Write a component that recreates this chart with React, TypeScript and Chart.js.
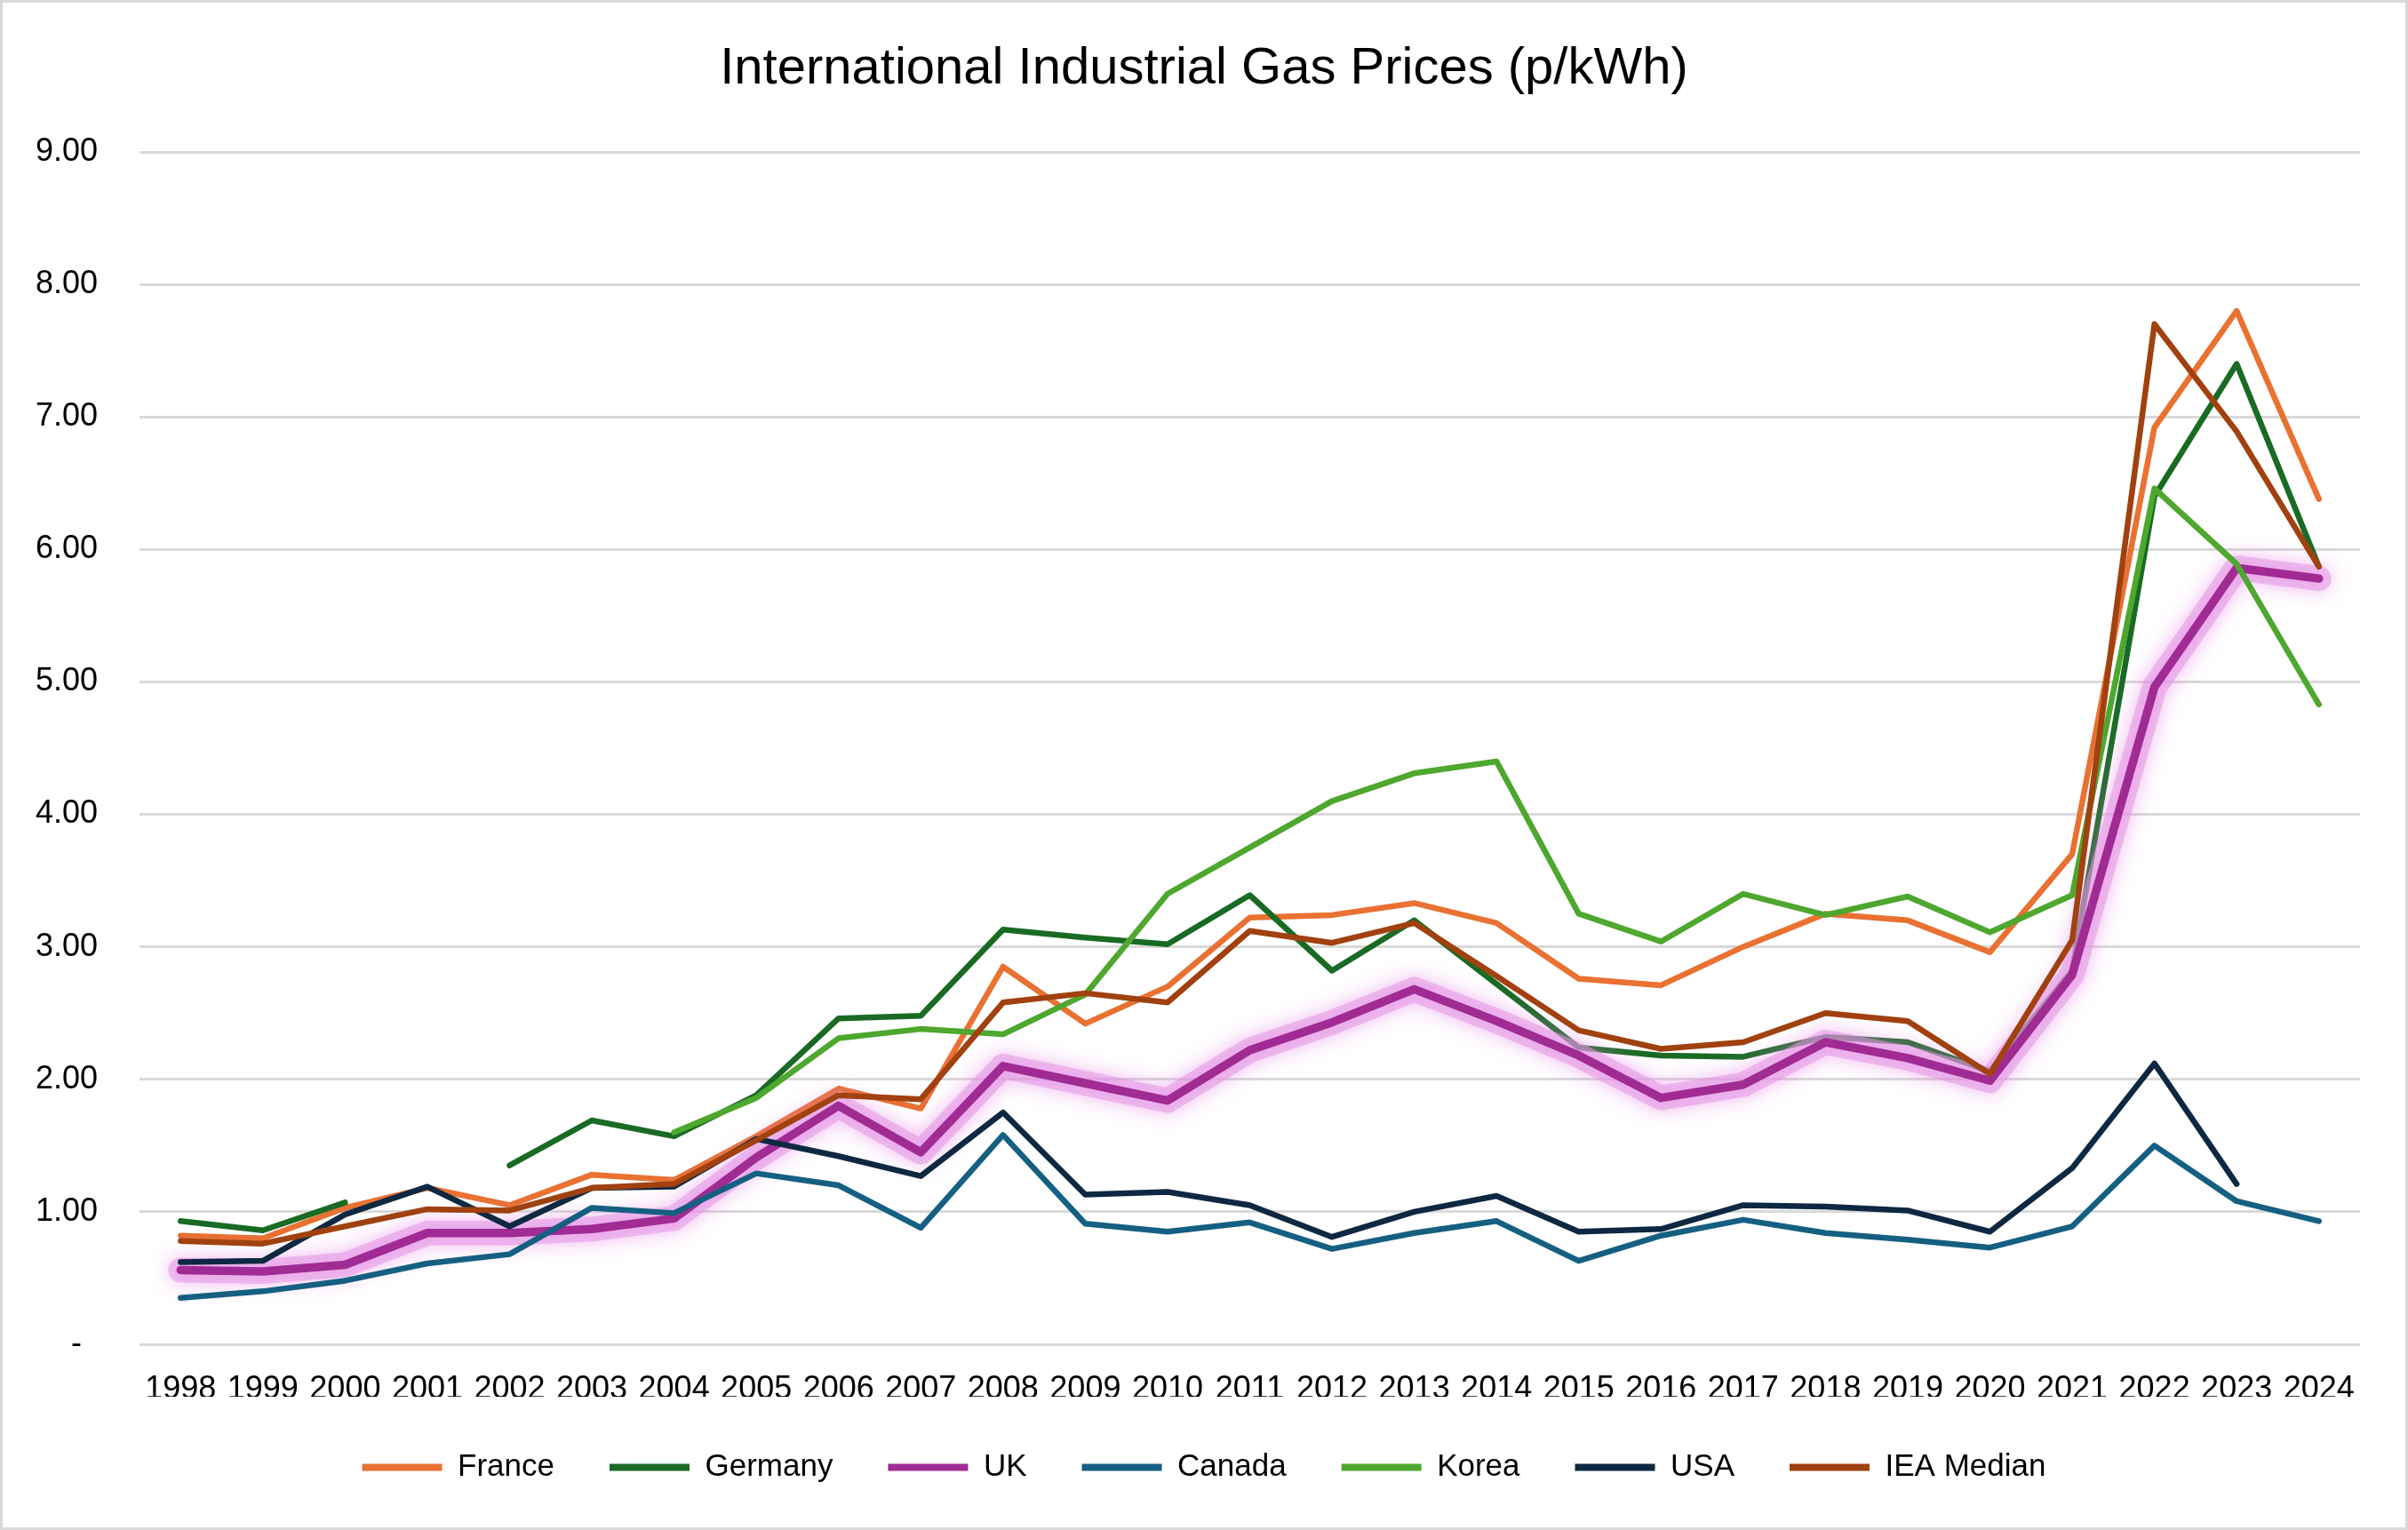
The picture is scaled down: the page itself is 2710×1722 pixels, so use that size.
import React, { useEffect, useRef } from 'react';
import { Chart, registerables } from 'chart.js';

Chart.register(...registerables);

const years = ['1998','1999','2000','2001','2002','2003','2004','2005','2006','2007','2008','2009','2010','2011','2012','2013','2014','2015','2016','2017','2018','2019','2020','2021','2022','2023','2024'];

const france = [0.82, 0.80, 1.03, 1.18, 1.05, 1.28, 1.24, 1.57, 1.93, 1.78, 2.85, 2.42, 2.70, 3.22, 3.24, 3.33, 3.18, 2.76, 2.71, 3.00, 3.25, 3.20, 2.96, 3.70, 6.92, 7.80, 6.38];
const germany = [0.93, 0.86, 1.07, null, 1.35, 1.69, 1.57, 1.88, 2.46, 2.48, 3.13, 3.07, 3.02, 3.39, 2.82, 3.20, 2.72, 2.24, 2.18, 2.17, 2.32, 2.28, 2.06, 2.82, 6.40, 7.40, 5.87];
const uk = [0.56, 0.55, 0.60, 0.84, 0.84, 0.87, 0.95, 1.41, 1.80, 1.45, 2.10, 1.97, 1.84, 2.22, 2.43, 2.68, 2.44, 2.18, 1.86, 1.96, 2.28, 2.16, 1.99, 2.79, 4.96, 5.86, 5.78];
const canada = [0.35, 0.40, 0.48, 0.61, 0.68, 1.03, 0.99, 1.29, 1.20, 0.88, 1.58, 0.91, 0.85, 0.92, 0.72, 0.84, 0.93, 0.63, 0.82, 0.94, 0.84, 0.79, 0.73, 0.89, 1.50, 1.08, 0.93];
const korea = [null, null, null, null, null, null, 1.60, 1.86, 2.31, 2.38, 2.34, 2.64, 3.40, 3.75, 4.10, 4.31, 4.40, 3.25, 3.04, 3.40, 3.24, 3.38, 3.11, 3.39, 6.46, 5.89, 4.83];
const usa = [0.62, 0.63, 0.98, 1.19, 0.89, 1.18, 1.19, 1.55, 1.42, 1.27, 1.75, 1.13, 1.15, 1.05, 0.81, 1.00, 1.12, 0.85, 0.87, 1.05, 1.04, 1.01, 0.85, 1.33, 2.12, 1.21, null];
const ieaMedian = [0.78, 0.76, 0.89, 1.02, 1.01, 1.18, 1.21, 1.54, 1.88, 1.85, 2.58, 2.65, 2.58, 3.12, 3.03, 3.18, 2.78, 2.37, 2.23, 2.28, 2.50, 2.44, 2.04, 3.05, 7.70, 6.89, 5.87];

const yTicks = [0, 1, 2, 3, 4, 5, 6, 7, 8, 9];

const TITLE = 'International Industrial Gas Prices (p/kWh)';
const GLOW = '__uk_glow__';
const FONT = "'Liberation Sans', Arial, sans-serif";

export default function App() {
  const ref = useRef<HTMLCanvasElement>(null);

  useEffect(() => {
    document.body.style.margin = '0';
    const canvas = ref.current;
    if (!canvas) return;

    const mk = (label: string, data: (number | null)[], color: string, width: number, order: number) => ({
      label,
      data,
      borderColor: color,
      backgroundColor: color,
      borderWidth: width,
      pointRadius: 0,
      pointHoverRadius: 0,
      borderJoinStyle: 'round' as const,
      borderCapStyle: 'round' as const,
      tension: 0,
      fill: false,
      spanGaps: false,
      order,
    });

    const glowPlugin = {
      id: 'ukGlow',
      beforeDatasetDraw(chart: any, args: any) {
        const ds = chart.data.datasets[args.index];
        if (ds && ds.label === GLOW) {
          chart.ctx.save();
          chart.ctx.shadowColor = 'rgba(230,130,230,1)';
          chart.ctx.shadowBlur = 22;
        }
      },
      afterDatasetDraw(chart: any, args: any) {
        const ds = chart.data.datasets[args.index];
        if (ds && ds.label === GLOW) chart.ctx.restore();
      },
    };

    // centre title and legend on the whole chart width (symmetric 54px side margins)
    const centrePlugin = {
      id: 'centreBlocks',
      afterLayout(chart: any) {
        const w = chart.width;
        [chart.titleBlock, chart.legend].forEach((b: any) => {
          if (b) {
            b.left = 54;
            b.right = w - 54;
            b.width = w - 108;
          }
        });
      },
    };

    const chart = new Chart(canvas, {
      type: 'line',
      data: {
        labels: years,
        datasets: [
          mk('France', france, '#E97132', 6.5, 70),
          mk('Germany', germany, '#196B24', 6.5, 60),
          mk(GLOW, uk, 'rgba(228,150,228,0.55)', 28, 55),
          mk('UK', uk, '#A02B93', 9.5, 50),
          mk('Canada', canada, '#156082', 6.5, 40),
          mk('Korea', korea, '#4EA72E', 6.5, 30),
          mk('USA', usa, '#0E2841', 6.5, 20),
          mk('IEA Median', ieaMedian, '#A0410F', 6.5, 10),
        ],
      },
      options: {
        responsive: false,
        animation: false,
        devicePixelRatio: 1,
        layout: { padding: { left: 0, right: 54, top: 0, bottom: 43 } },
        scales: {
          x: {
            offset: true,
            grid: { display: false, drawTicks: false },
            border: { display: false },
            ticks: {
              autoSkip: false,
              maxRotation: 0,
              minRotation: 0,
              padding: 29,
              color: '#000',
              font: { family: FONT, size: 36, lineHeight: 1.2 },
            },
            afterFit: (scale: any) => { scale.height = 59; },
          },
          y: {
            min: 0,
            max: 9,
            afterBuildTicks: (scale: any) => { scale.ticks = yTicks.map((v) => ({ value: v })); },
            grid: { color: '#D9D9D9', lineWidth: 3, drawTicks: false },
            border: { display: false },
            ticks: {
              padding: 47,
              color: '#000',
              font: { family: FONT, size: 36, lineHeight: 1.2 },
              callback: (v: any) => (Number(v) === 0 ? '-\u2002' : Number(v).toFixed(2)),
            },
            afterFit: (scale: any) => { scale.width = 157; },
          },
        },
        plugins: {
          title: {
            display: true,
            text: TITLE,
            color: '#000',
            font: { family: FONT, size: 58, weight: 'normal', lineHeight: 1.2 },
            padding: { top: 43, bottom: 58.4 },
          },
          legend: {
            display: true,
            position: 'bottom',
            labels: {
              boxWidth: 90,
              boxHeight: 8,
              padding: 62,
              color: '#000',
              font: { family: FONT, size: 35 },
              generateLabels: (c: any) =>
                c.data.datasets
                  .map((ds: any, i: number) => ({
                    text: ds.label,
                    fillStyle: ds.borderColor,
                    strokeStyle: ds.borderColor,
                    lineWidth: 0,
                    hidden: false,
                    datasetIndex: i,
                  }))
                  .filter((it: any) => it.text !== GLOW),
            },
          },
          tooltip: { enabled: false },
        },
      } as any,
      plugins: [glowPlugin, centrePlugin],
    });

    return () => chart.destroy();
  }, []);

  return (
    <div style={{ position: 'relative', width: 2710, height: 1722, background: '#fff', overflow: 'hidden' }}>
      <canvas ref={ref} width={2710} height={1722} style={{ position: 'absolute', left: 0, top: 0, width: 2710, height: 1722 }} />
      <div
        style={{
          position: 'absolute',
          left: 0,
          top: 0,
          width: 2710,
          height: 1722,
          boxSizing: 'border-box',
          border: '3px solid #D9D9D9',
          pointerEvents: 'none',
        }}
      />
    </div>
  );
}
